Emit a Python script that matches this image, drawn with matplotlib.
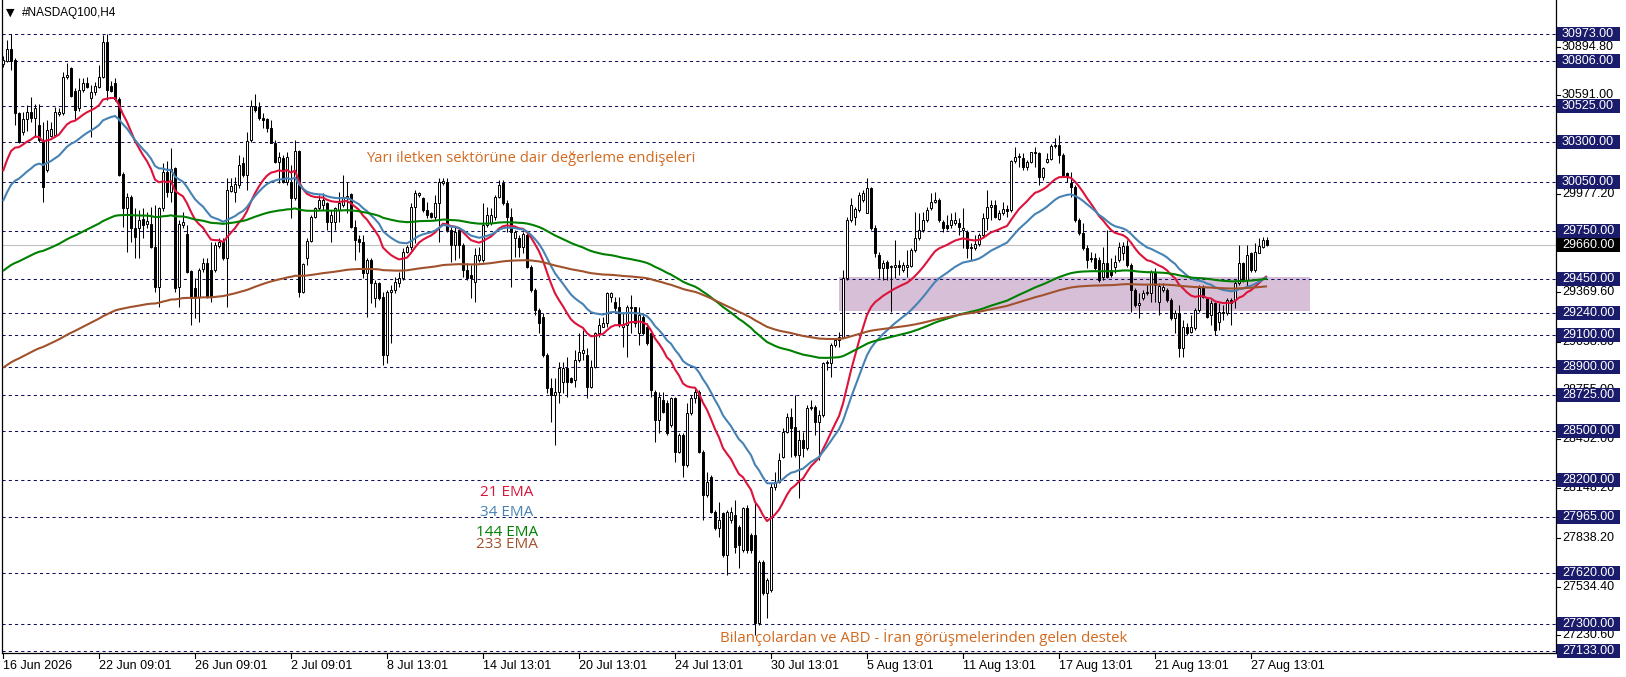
import matplotlib
matplotlib.use("Agg")
import matplotlib.pyplot as plt
from matplotlib.patches import Rectangle
from matplotlib.lines import Line2D
from matplotlib.transforms import blended_transform_factory
import numpy as np

# ---------------- data (H4 bars, NASDAQ100) ----------------
opens = [
30784,30805,30880,30811,30479,30361,30444,30486,30448,30407,
30313,30127,30340,30345,30473,30479,30703,30764,30618,30510,
30625,30666,30573,30610,30645,30708,30921,30649,30666,30569,
30100,29892,29961,29768,29764,29820,29789,29789,29650,29401,
29888,30116,29992,30137,29401,29785,29727,29500,29390,29339,
29509,29550,29505,29505,29656,29685,29577,29998,29992,30033,
30168,30096,30313,30525,30521,30452,30442,30386,30293,30179,
30199,30054,30054,29950,30247,29370,29577,29685,29836,29888,
29909,29919,29805,29805,29878,29909,29950,29975,29774,29695,
29681,29484,29567,29328,29422,29339,28976,29370,29380,29422,
29453,29619,29646,29899,29971,29950,29878,29857,29832,29919,
30048,30054,29753,29660,29753,29660,29505,29473,29432,29567,
29567,29785,29795,29836,29961,30044,29919,29836,29702,29702,
29646,29722,29525,29380,29256,29214,28976,28768,28727,28748,
28810,28893,28831,28820,28945,28986,28976,28779,28903,29111,
29152,29173,29339,29308,29276,29152,29162,29266,29276,29111,
29214,29152,29111,28748,28571,28696,28675,28540,28706,28374,
28478,28292,28613,28706,28748,28374,28105,28219,28001,27897,
27991,27732,27949,27980,27908,27763,28022,27856,27856,27306,
27690,27493,27514,28157,28188,28343,28499,28592,28530,28354,
28447,28395,28644,28654,28561,28603,28924,28924,29038,29069,
29090,29453,29816,29837,29878,29940,29862,30013,29764,29598,
29515,29557,29526,29526,29536,29505,29526,29530,29629,29702,
29754,29816,29888,29930,29940,29806,29785,29785,29795,29795,
29754,29743,29650,29640,29667,29722,29826,29899,29909,29820,
29857,29882,29878,30185,30206,30200,30148,30179,30237,30231,
30081,30179,30193,30276,30282,30220,30106,30044,30023,29816,
29733,29640,29577,29577,29567,29463,29546,29505,29525,29567,
29608,29654,29536,29380,29287,29328,29370,29360,29494,29308,
29380,29380,29318,29204,29235,29017,29152,29121,29142,29256,
29401,29329,29225,29301,29183,29235,29235,29318,29318,29422,
29546,29442,29608,29505,29613,29650,29691]

highs = [
30838,30936,30971,30822,30486,30486,30531,30583,30540,30535,
30428,30438,30428,30521,30510,30739,30790,30770,30635,30697,
30697,30708,30656,30676,30780,30967,30971,30681,30701,30583,
30116,29982,29971,29888,29878,29888,29868,29899,29909,29899,
30168,30180,30262,30148,29816,29868,29785,29505,29453,29515,
29577,29577,29681,29681,29702,29702,30075,30075,30085,30220,
30210,30365,30562,30600,30548,30479,30448,30438,30313,30241,
30220,30241,30158,30313,30251,29546,29702,29847,29899,29971,
29982,29930,29878,29899,29992,30096,30054,29982,29816,29722,
29722,29577,29577,29442,29432,29370,29380,29411,29463,29494,
29639,29660,29919,30002,29992,29961,29930,29868,29971,30075,
30075,30075,29774,29774,29774,29671,29546,29536,29639,29650,
29919,29899,29888,29971,30065,30065,29940,29888,29753,29722,
29743,29733,29536,29391,29266,29235,28986,28831,28831,28934,
28934,28965,28841,29007,29111,29131,29017,28945,29121,29204,
29214,29370,29370,29339,29339,29245,29287,29349,29276,29276,
29235,29173,29121,28758,28748,28748,28696,28717,28717,28489,
28489,28675,28727,28769,28758,28385,28250,28229,28012,28063,
28001,28012,28032,28074,27918,28032,28043,27866,28053,27700,
27700,27586,28178,28250,28364,28520,28613,28644,28727,28509,
28499,28665,28696,28665,28634,28934,28945,29049,29080,29121,
29505,29837,29951,29899,29992,30003,30075,30023,29785,29619,
29567,29567,29536,29691,29567,29557,29629,29640,29868,29857,
29868,29899,29982,29992,29951,29816,29847,29857,29868,29826,
29888,29754,29671,29722,29733,29857,30002,29940,29940,29878,
29930,29909,30189,30268,30231,30231,30189,30241,30272,30241,
30148,30231,30289,30324,30345,30231,30117,30117,30034,29826,
29795,29660,29619,29608,29588,29650,29754,29577,29598,29681,
29681,29691,29546,29391,29360,29380,29411,29505,29515,29422,
29422,29391,29329,29256,29287,29194,29173,29225,29266,29411,
29411,29339,29318,29308,29297,29287,29329,29329,29442,29660,
29557,29660,29619,29671,29702,29712,29708]

lows = [
30770,30801,30749,30407,30293,30345,30369,30428,30334,30303,
29930,30116,30332,30334,30465,30469,30693,30583,30438,30494,
30614,30635,30334,30593,30635,30697,30562,30614,30556,30092,
29774,29619,29681,29577,29577,29702,29764,29639,29370,29276,
29870,29960,29930,29370,29276,29764,29484,29162,29204,29183,
29494,29328,29308,29494,29639,29567,29276,29992,29930,30013,
30085,30002,30303,30490,30438,30386,30365,30293,30168,30044,
30044,30033,29826,29940,29339,29359,29536,29681,29826,29878,
29878,29753,29681,29753,29805,29899,29857,29764,29567,29619,
29453,29214,29297,29276,29318,28913,28924,29048,29359,29401,
29442,29608,29629,29671,29961,29868,29826,29826,29816,29681,
30033,29743,29556,29567,29577,29463,29442,29328,29308,29556,
29556,29774,29785,29816,29950,29909,29743,29401,29588,29588,
29608,29515,29370,29225,29111,28965,28737,28561,28416,28675,
28737,28716,28799,28779,28934,28945,28706,28768,28893,29090,
29152,29152,29308,29245,29152,29028,28965,29111,29152,29038,
29100,29038,28717,28437,28489,28613,28478,28530,28312,28364,
28219,28281,28603,28675,28364,27949,28095,27991,27887,27845,
27721,27607,27929,27742,27649,27752,27742,27742,27234,27296,
27483,27337,27503,28136,28178,28333,28489,28343,28343,28084,
28343,28385,28634,28478,28323,28592,28883,28841,29028,29028,
29080,29443,29806,29785,29868,29930,29857,29754,29588,29453,
29443,29443,29246,29453,29474,29494,29463,29526,29619,29691,
29743,29806,29878,29920,29806,29743,29754,29764,29785,29723,
29640,29577,29567,29629,29654,29712,29754,29816,29826,29816,
29847,29837,29868,30168,30148,30127,30127,30168,30148,30034,
30065,30173,30189,30262,30168,30085,30054,29961,29805,29722,
29629,29515,29557,29505,29432,29442,29453,29463,29484,29557,
29567,29525,29245,29277,29204,29318,29349,29308,29308,29225,
29370,29308,29194,29111,28965,28965,29100,29111,29131,29246,
29329,29204,29163,29100,29131,29194,29225,29163,29266,29411,
29432,29391,29494,29494,29608,29640,29654]

closes = [
30811,30880,30805,30479,30303,30444,30486,30448,30515,30313,
30023,30376,30382,30486,30490,30708,30718,30589,30500,30625,
30666,30645,30614,30649,30708,30921,30625,30620,30569,30096,
29892,29961,29764,29712,29816,29785,29811,29650,29401,29888,
30116,29992,30133,29390,29789,29805,29494,29328,29339,29505,
29550,29339,29339,29660,29677,29577,30002,30027,30038,30158,
30096,30309,30525,30500,30448,30438,30386,30293,30179,30210,
30054,30210,29950,30247,29370,29540,29685,29836,29888,29940,
29940,29805,29847,29888,29919,29961,29965,29774,29691,29681,
29484,29567,29422,29422,29328,28976,29370,29380,29432,29453,
29619,29646,29899,29982,29982,29878,29847,29836,29919,30054,
30060,29753,29660,29743,29660,29505,29453,29453,29598,29598,
29785,29847,29847,29961,30033,29919,29836,29743,29743,29650,
29729,29525,29380,29256,29173,28976,28768,28727,28748,28893,
28893,28810,28810,28945,28996,29007,28779,28903,29111,29162,
29173,29359,29359,29266,29162,29162,29276,29276,29173,29225,
29111,29049,28758,28571,28717,28623,28489,28706,28374,28478,
28292,28613,28706,28748,28374,28105,28188,28001,27897,27949,
27732,28001,28001,27783,27794,28022,27763,27763,27306,27690,
27493,27576,28157,28188,28323,28499,28592,28520,28354,28447,
28395,28644,28654,28561,28603,28924,28934,29038,29069,29090,
29453,29816,29909,29882,29971,29982,30013,29764,29609,29515,
29546,29515,29530,29536,29526,29536,29536,29629,29702,29754,
29816,29878,29930,29940,29816,29764,29764,29816,29816,29774,
29764,29640,29640,29667,29722,29826,29899,29909,29837,29857,
29882,29874,30185,30206,30214,30148,30179,30237,30231,30081,
30137,30193,30276,30282,30220,30096,30085,30023,29816,29733,
29640,29567,29571,29515,29442,29546,29463,29474,29557,29650,
29654,29536,29380,29287,29297,29360,29360,29494,29411,29405,
29401,29318,29204,29239,29017,29152,29111,29152,29256,29391,
29339,29214,29301,29131,29246,29246,29318,29297,29422,29546,
29442,29598,29505,29619,29654,29691,29660]

# EMA periods and their values just before the first visible bar
ema_periods = [21, 34, 144, 233]
ema_seeds = [30050, 29880, 29480, 28880]
ema_colors = ['#DC143C', '#4682B4', '#008000', '#A0522D']
ema_labels = ['21 EMA', '34 EMA', '144 EMA', '233 EMA']

level_prices = [30973, 30806, 30525, 30300, 30050, 29750, 29450, 29240, 29100,
                28900, 28725, 28500, 28200, 27965, 27620, 27300, 27133]
axis_tick_prices = [30894.80, 30591.00, 30287.20, 29977.20, 29673.40, 29369.60,
                    29058.80, 28755.00, 28452.00, 28148.20, 27838.20, 27534.40, 27230.60]
current_price = 29660.00

zone_bars = [209, 326.75]
zone_prices = [29250, 29460]

date_ticks = [0, 24, 48, 72, 96, 120, 144, 168, 192, 216, 240, 264, 288, 312]
date_labels = ['16 Jun 2026', '22 Jun 09:01', '26 Jun 09:01', '2 Jul 09:01', '8 Jul 13:01',
               '14 Jul 13:01', '20 Jul 13:01', '24 Jul 13:01', '30 Jul 13:01', '5 Aug 13:01',
               '11 Aug 13:01', '17 Aug 13:01', '21 Aug 13:01', '27 Aug 13:01']

title = '#NASDAQ100,H4'
note_top = 'Yarı iletken sektörüne dair değerleme endişeleri'
note_bottom = 'Bilançolardan ve ABD - İran görüşmelerinden gelen destek'

# ---------------- figure ----------------
W, H = 1626, 677
AXF = ['Liberation Sans', 'DejaVu Sans']
TXF = ['Open Sans', 'DejaVu Sans']
NAVY = '#1b1b6b'

fig = plt.figure(figsize=(W / 100, H / 100), dpi=100)
fig.patch.set_facecolor('white')
ax = fig.add_axes([2 / W, (H - 653) / H, (1556 - 2) / W, 653 / H])
ax.set_xlim(-0.25, 388.25)
ax.set_ylim(27121.2, 31184.6)
ax.set_xticks([])
ax.set_yticks([])
for s in ['left', 'right', 'bottom']:
    ax.spines[s].set_color('black')
    ax.spines[s].set_linewidth(0.9)
ax.spines['top'].set_visible(False)

o = np.array(opens, float)
h = np.array(highs, float)
l = np.array(lows, float)
c = np.array(closes, float)
h = np.maximum(h, np.maximum(o, c))
l = np.minimum(l, np.minimum(o, c))
x = np.arange(len(c))

# zone
ax.add_patch(Rectangle((zone_bars[0], zone_prices[0]), zone_bars[1] - zone_bars[0],
                       zone_prices[1] - zone_prices[0], facecolor='#D8BFD8',
                       edgecolor='none', zorder=1))

# horizontal levels
for p in level_prices:
    ax.axhline(p, color='#101060', lw=0.75, ls=(0, (3, 3)), zorder=2)
ax.axhline(current_price, color='#c0c0c0', lw=0.8, zorder=2)

# candles
ax.vlines(x, l, h, color='black', lw=0.75, zorder=3)
up = c >= o
body_lo = np.minimum(o, c)
body_h = np.abs(c - o)
ax.bar(x[up], body_h[up], bottom=body_lo[up], width=0.55, color='white',
       edgecolor='black', linewidth=0.7, zorder=4)
ax.bar(x[~up], body_h[~up], bottom=body_lo[~up], width=0.55, color='black',
       edgecolor='black', linewidth=0.7, zorder=4)

# EMAs
for per, seed, col in zip(ema_periods, ema_seeds, ema_colors):
    a = 2.0 / (per + 1)
    e = seed
    vals = []
    for v in c:
        e = e + a * (v - e)
        vals.append(e)
    ax.plot(x, vals, color=col, lw=1.5, zorder=5, solid_capstyle='butt')

# texts on chart
def fx(px):
    return px / W

def fy(py):
    return (H - py) / H

fig.text(fx(6), fy(13), '\u25BC', fontsize=8, va='center', ha='left', family='DejaVu Sans')
fig.text(fx(22), fy(13), title, fontsize=8.5, va='center', ha='left', family=AXF)

fig.text(fx(531), fy(158), note_top, fontsize=10.6, color='#D2691E', ha='center',
         va='center', family=TXF)
fig.text(fx(924), fy(638), note_bottom, fontsize=10.8, color='#D2691E', ha='center',
         va='center', family=TXF)

leg_y = [493, 512, 532, 544]
for lab, col, yy in zip(ema_labels, ema_colors, leg_y):
    fig.text(fx(507), fy(yy), lab, fontsize=11, color=col, ha='center', va='center',
             family=TXF)

# right price scale
tr = blended_transform_factory(fig.transFigure, ax.transData)
for p in axis_tick_prices:
    fig.add_artist(Line2D([fx(1556), fx(1560)], [p, p], transform=tr, color='black',
                          lw=0.8))
    fig.text(fx(1562), p, f'{p:.2f}', transform=tr, fontsize=9, va='center',
             ha='left', family=AXF, zorder=2)

box_h = 14 / 0.1607
for p in level_prices + [current_price]:
    col = 'black' if p == current_price else NAVY
    fig.add_artist(Rectangle((fx(1557), p - box_h / 2), fx(63), box_h, transform=tr,
                             facecolor=col, edgecolor='none', zorder=3))
    fig.text(fx(1562), p, f'{p:.2f}', transform=tr, fontsize=9, va='center',
             ha='left', color='white', family=AXF, zorder=4)

# date axis
for b, lab in zip(date_ticks, date_labels):
    px = 3 + 4 * b
    fig.add_artist(Line2D([fx(px), fx(px)], [fy(653), fy(658)], color='black', lw=0.8))
    fig.text(fx(px), fy(666), lab, fontsize=9, va='center', ha='left', family=AXF)

fig.savefig('out.png', dpi=100, facecolor='white')
